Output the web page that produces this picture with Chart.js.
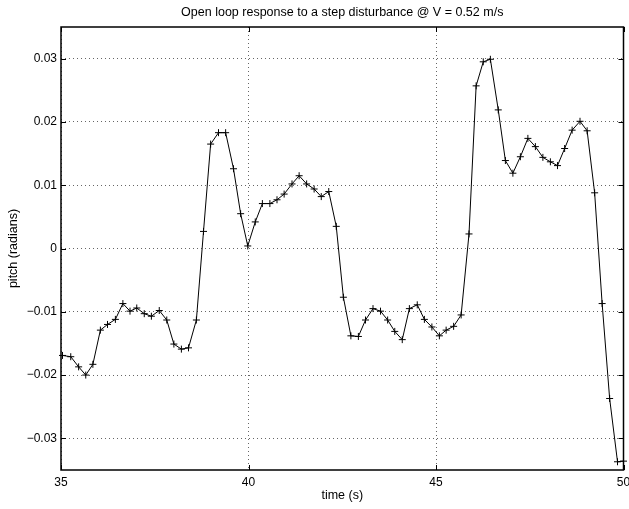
<!DOCTYPE html>
<html>
<head>
<meta charset="utf-8">
<title>Open loop response</title>
<script src="https://cdn.jsdelivr.net/npm/chart.js@4"></script>
<style>
  html, body { margin: 0; padding: 0; background: #fff; }
  canvas { display: block; }
</style>
</head>
<body>
<canvas id="pitch-plot" width="629" height="509"></canvas>
<script>
// sample times (s)
const time = [
    35.04, 35.26, 35.47, 35.66, 35.85, 36.05, 36.24, 36.45, 36.65, 36.84,
    37.02, 37.22, 37.41, 37.62, 37.82, 38.01, 38.21, 38.40, 38.61, 38.80,
    38.99, 39.20, 39.39, 39.60, 39.79, 39.98, 40.18, 40.37, 40.57, 40.76,
    40.95, 41.16, 41.35, 41.55, 41.75, 41.94, 42.14, 42.34, 42.53, 42.73,
    42.93, 43.12, 43.32, 43.52, 43.71, 43.90, 44.10, 44.29, 44.50, 44.69,
    44.89, 45.09, 45.27, 45.47, 45.67, 45.88, 46.07, 46.26, 46.45, 46.66,
    46.85, 47.05, 47.25, 47.45, 47.65, 47.85, 48.05, 48.24, 48.43, 48.63,
    48.84, 49.03, 49.23, 49.43, 49.63, 49.84, 50.00
];

// pitch (radians)
const pitch = [
    -0.0169, -0.0171, -0.0187, -0.0200, -0.0183, -0.0129, -0.0120, -0.0112, -0.0087, -0.0099,
    -0.0094, -0.0103, -0.0107, -0.0098, -0.0113, -0.0151, -0.0159, -0.0157, -0.0113, 0.0027,
    0.0165, 0.0183, 0.0183, 0.0126, 0.0055, 0.0004, 0.0042, 0.0071, 0.0071, 0.0077,
    0.0086, 0.0102, 0.0115, 0.0102, 0.0094, 0.0082, 0.0090, 0.0035, -0.0077, -0.0138,
    -0.0139, -0.0113, -0.0095, -0.0099, -0.0113, -0.0131, -0.0144, -0.0095, -0.0089, -0.0112,
    -0.0124, -0.0138, -0.0129, -0.0123, -0.0105, 0.0023, 0.0257, 0.0295, 0.0299, 0.0219,
    0.0139, 0.0119, 0.0145, 0.0174, 0.0161, 0.0144, 0.0137, 0.0131, 0.0158, 0.0187,
    0.0201, 0.0186, 0.0088, -0.0087, -0.0237, -0.0337, -0.0336
];

const xTicks = [35, 40, 45, 50];
const yTicks = [-0.03, -0.02, -0.01, 0, 0.01, 0.02, 0.03];

const ctx = document.getElementById('pitch-plot');
const family = '"Liberation Sans", Arial, Helvetica, sans-serif';
const tickFont = { family: family, size: 12 };
const labelFont = { family: family, size: 12.5 };

let points = [];
for (let i = 0; i < time.length; i++) {
    points.push({ x: time[i], y: pitch[i] });
}

function fmtPitch(v) {
    if (Math.abs(v) < 1e-9) return '0';
    return v.toFixed(2).replace('-', '\u2212');
}

// box round the axes with small inward ticks on all four sides
const axesBox = {
    id: 'axesBox',
    afterDraw(chart) {
        const c = chart.ctx;
        const a = chart.chartArea;
        const xs = chart.scales.x;
        const ys = chart.scales.y;
        const len = 5;
        c.save();
        c.setLineDash([]);
        c.strokeStyle = '#000';
        c.lineWidth = 1;
        c.beginPath();
        for (const t of xTicks) {
            const px = Math.round(xs.getPixelForValue(t)) + 0.5;
            c.moveTo(px, a.bottom); c.lineTo(px, a.bottom - len);
            c.moveTo(px, a.top); c.lineTo(px, a.top + len);
        }
        for (const t of yTicks) {
            const py = Math.round(ys.getPixelForValue(t)) + 0.5;
            c.moveTo(a.left, py); c.lineTo(a.left + len, py);
            c.moveTo(a.right, py); c.lineTo(a.right - len, py);
        }
        c.stroke();
        c.lineWidth = 1.5;
        c.strokeRect(a.left, a.top, a.right - a.left, a.bottom - a.top);
        c.restore();
    }
};

new Chart(ctx, {
    type: 'line',
    data: {
        datasets: [{
            data: points,
            borderColor: '#000',
            borderWidth: 1,
            tension: 0,
            pointStyle: 'cross',
            pointRadius: 3.5,
            pointBorderColor: '#000',
            pointBorderWidth: 1,
            pointHoverRadius: 3.5,
            clip: 5
        }]
    },
    options: {
        responsive: false,
        animation: false,
        devicePixelRatio: 1,
        layout: { padding: { left: 0, top: 0, bottom: 0, right: 5.5 } },
        plugins: {
            legend: { display: false },
            tooltip: { enabled: false },
            title: {
                display: true,
                text: 'Open loop response to a step disturbance @ V = 0.52 m/s',
                fullSize: false,
                color: '#000',
                font: { family: family, size: 12.5, weight: 'normal' },
                padding: { top: 5, bottom: 7 }
            }
        },
        scales: {
            x: {
                type: 'linear',
                min: 35,
                max: 50,
                afterBuildTicks: (axis) => { axis.ticks = xTicks.map(v => ({ value: v })); },
                afterFit: (axis) => {
                    axis.height = 39;
                    axis.paddingLeft = 0;
                    axis.paddingRight = 0;
                },
                ticks: {
                    color: '#000',
                    font: tickFont,
                    padding: 5.5,
                    maxRotation: 0,
                    autoSkip: false
                },
                grid: { color: '#666', lineWidth: 1, drawTicks: false },
                border: { display: false, dash: [1, 3] },
                title: {
                    display: true,
                    text: 'time (s)',
                    color: '#000',
                    font: labelFont,
                    padding: { top: 0, bottom: 5.5 }
                }
            },
            y: {
                type: 'linear',
                min: -0.035,
                max: 0.035,
                afterBuildTicks: (axis) => { axis.ticks = yTicks.map(v => ({ value: v })); },
                afterFit: (axis) => {
                    axis.width = 61;
                    axis.paddingTop = 0;
                    axis.paddingBottom = 0;
                },
                ticks: {
                    color: '#000',
                    font: tickFont,
                    padding: 4,
                    callback: (v) => fmtPitch(v)
                },
                grid: { color: '#666', lineWidth: 1, drawTicks: false },
                border: { display: false, dash: [1, 3] },
                title: {
                    display: true,
                    text: 'pitch (radians)',
                    color: '#000',
                    font: labelFont,
                    padding: { top: 6.5, bottom: 0 }
                }
            }
        }
    },
    plugins: [axesBox]
});
</script>
</body>
</html>
